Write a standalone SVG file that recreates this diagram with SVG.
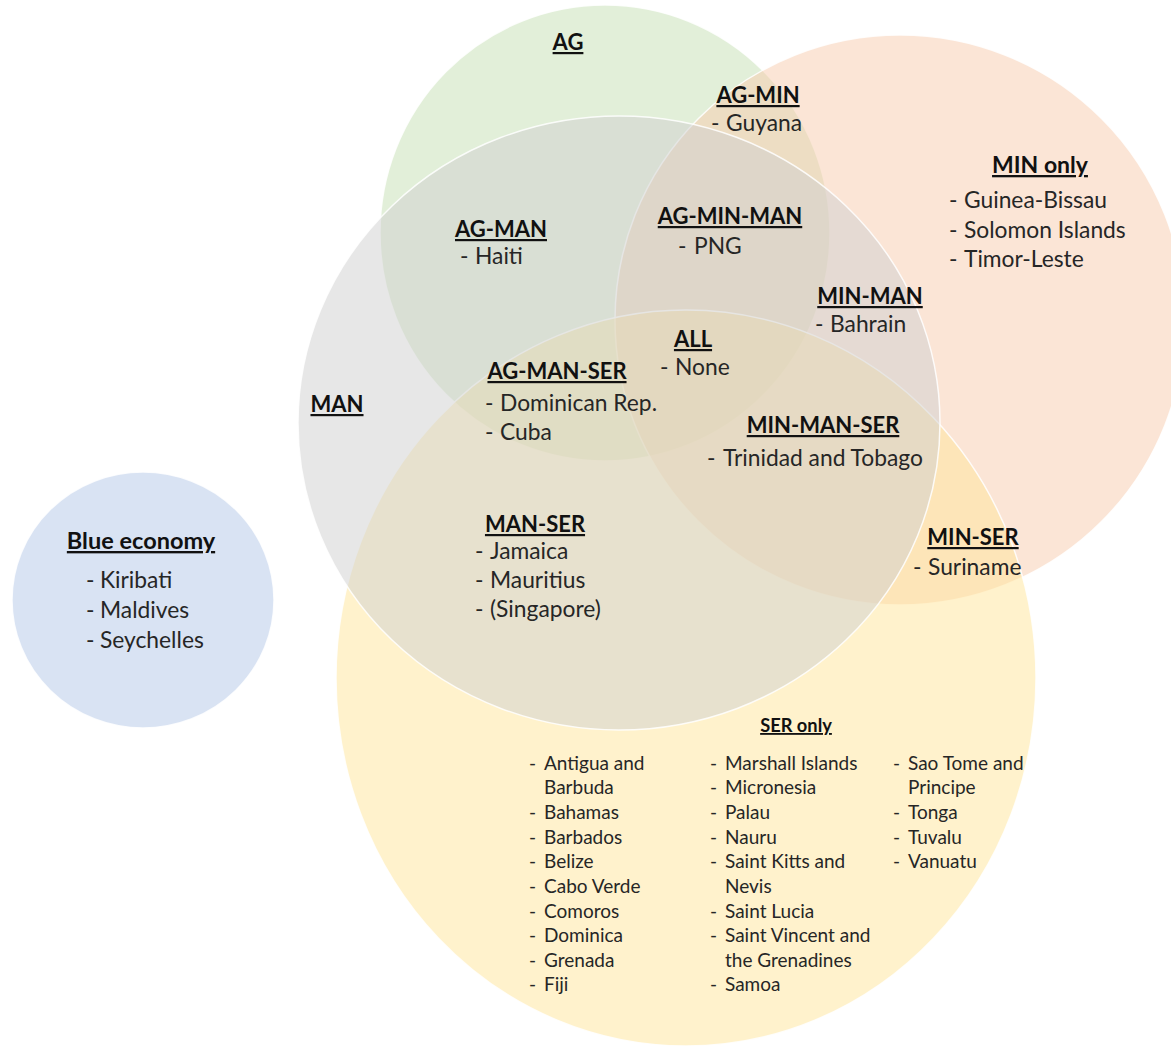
<svg xmlns="http://www.w3.org/2000/svg" width="1171" height="1047" viewBox="0 0 1171 1047">
<style>
.set{fill-opacity:0.5;stroke:#ffffff;stroke-width:1.5;stroke-opacity:0.85}
.h{font-family:Lato,"Liberation Sans",sans-serif;font-weight:bold;font-size:22px;fill:#111;text-anchor:middle;text-decoration:underline}
.t{font-family:Lato,"Liberation Sans",sans-serif;font-size:22.8px;fill:#262626}
.hs{font-family:Lato,"Liberation Sans",sans-serif;font-weight:bold;font-size:18.3px;fill:#111;text-anchor:middle;text-decoration:underline}
.s{font-family:Lato,"Liberation Sans",sans-serif;font-size:19px;fill:#262626}
</style>
<rect width="1171" height="1047" fill="#ffffff"/>
<g id="circles">
<g id="set-ag"><ellipse class="set" cx="605" cy="233" rx="225" ry="228" fill="#c5e0b4"/></g>
<g id="set-min"><circle class="set" cx="900" cy="320" r="285" fill="#f8cbad"/></g>
<g id="set-ser"><ellipse class="set" cx="686" cy="678" rx="350" ry="368" fill="#ffe699"/></g>
<g id="set-man"><ellipse class="set" cx="619" cy="423" rx="321" ry="307" fill="#cfcfcf"/></g>
<g id="set-blue"><ellipse class="set" cx="143" cy="600" rx="131" ry="128" fill="#b4c7e7"/></g>
</g>
<g id="label-ag"><text class="h" x="568" y="50">AG</text></g>
<g id="label-ag-min"><text class="h" x="758" y="103">AG-MIN</text>
<text class="t" y="131"><tspan x="711">-</tspan><tspan x="726">Guyana</tspan></text></g>
<g id="label-min-only"><text class="h" x="1040" y="173" style="font-size:23px">MIN only</text>
<text class="t" y="208"><tspan x="949">-</tspan><tspan x="964">Guinea-Bissau</tspan></text>
<text class="t" y="238"><tspan x="949">-</tspan><tspan x="964">Solomon  Islands</tspan></text>
<text class="t" y="267"><tspan x="949">-</tspan><tspan x="964">Timor-Leste</tspan></text></g>
<g id="label-ag-man"><text class="h" x="501" y="237">AG-MAN</text>
<text class="t" y="264"><tspan x="460">-</tspan><tspan x="475">Haiti</tspan></text></g>
<g id="label-ag-min-man"><text class="h" x="730" y="224">AG-MIN-MAN</text>
<text class="t" y="254"><tspan x="678">-</tspan><tspan x="694">PNG</tspan></text></g>
<g id="label-min-man"><text class="h" x="870" y="304">MIN-MAN</text>
<text class="t" y="332"><tspan x="815">-</tspan><tspan x="830">Bahrain</tspan></text></g>
<g id="label-all"><text class="h" x="693" y="347">ALL</text>
<text class="t" y="375"><tspan x="660">-</tspan><tspan x="675">None</tspan></text></g>
<g id="label-ag-man-ser"><text class="h" x="557" y="379">AG-MAN-SER</text>
<text class="t" y="411"><tspan x="485">-</tspan><tspan x="500">Dominican Rep.</tspan></text>
<text class="t" y="440"><tspan x="485">-</tspan><tspan x="500">Cuba</tspan></text></g>
<g id="label-man"><text class="h" x="337" y="412">MAN</text></g>
<g id="label-min-man-ser"><text class="h" x="823" y="433">MIN-MAN-SER</text>
<text class="t" y="466"><tspan x="707">-</tspan><tspan x="723">Trinidad and Tobago</tspan></text></g>
<g id="label-man-ser"><text class="h" x="535" y="532">MAN-SER</text>
<text class="t" y="559"><tspan x="475">-</tspan><tspan x="490">Jamaica</tspan></text>
<text class="t" y="588"><tspan x="475">-</tspan><tspan x="490">Mauritius</tspan></text>
<text class="t" y="617"><tspan x="475">-</tspan><tspan x="490">(Singapore)</tspan></text></g>
<g id="label-min-ser"><text class="h" x="973" y="545">MIN-SER</text>
<text class="t" y="575"><tspan x="913">-</tspan><tspan x="928">Suriname</tspan></text></g>
<g id="label-blue"><text class="h" x="141" y="549" style="font-size:23.5px">Blue economy</text>
<text class="t" y="588"><tspan x="86">-</tspan><tspan x="100">Kiribati</tspan></text>
<text class="t" y="618"><tspan x="86">-</tspan><tspan x="100">Maldives</tspan></text>
<text class="t" y="648"><tspan x="86">-</tspan><tspan x="100">Seychelles</tspan></text></g>
<g id="label-ser-only"><text class="hs" x="796" y="732">SER only</text>
<text class="s" y="770"><tspan x="529">-</tspan><tspan x="544">Antigua and</tspan></text>
<text class="s" y="794"><tspan x="544">Barbuda</tspan></text>
<text class="s" y="819"><tspan x="529">-</tspan><tspan x="544">Bahamas</tspan></text>
<text class="s" y="844"><tspan x="529">-</tspan><tspan x="544">Barbados</tspan></text>
<text class="s" y="868"><tspan x="529">-</tspan><tspan x="544">Belize</tspan></text>
<text class="s" y="893"><tspan x="529">-</tspan><tspan x="544">Cabo Verde</tspan></text>
<text class="s" y="918"><tspan x="529">-</tspan><tspan x="544">Comoros</tspan></text>
<text class="s" y="942"><tspan x="529">-</tspan><tspan x="544">Dominica</tspan></text>
<text class="s" y="967"><tspan x="529">-</tspan><tspan x="544">Grenada</tspan></text>
<text class="s" y="991"><tspan x="529">-</tspan><tspan x="544">Fiji</tspan></text>
<text class="s" y="770"><tspan x="710">-</tspan><tspan x="725">Marshall Islands</tspan></text>
<text class="s" y="794"><tspan x="710">-</tspan><tspan x="725">Micronesia</tspan></text>
<text class="s" y="819"><tspan x="710">-</tspan><tspan x="725">Palau</tspan></text>
<text class="s" y="844"><tspan x="710">-</tspan><tspan x="725">Nauru</tspan></text>
<text class="s" y="868"><tspan x="710">-</tspan><tspan x="725">Saint Kitts and</tspan></text>
<text class="s" y="893"><tspan x="725">Nevis</tspan></text>
<text class="s" y="918"><tspan x="710">-</tspan><tspan x="725">Saint Lucia</tspan></text>
<text class="s" y="942"><tspan x="710">-</tspan><tspan x="725">Saint Vincent and</tspan></text>
<text class="s" y="967"><tspan x="725">the Grenadines</tspan></text>
<text class="s" y="991"><tspan x="710">-</tspan><tspan x="725">Samoa</tspan></text>
<text class="s" y="770"><tspan x="893">-</tspan><tspan x="908">Sao Tome  and</tspan></text>
<text class="s" y="794"><tspan x="908">Principe</tspan></text>
<text class="s" y="819"><tspan x="893">-</tspan><tspan x="908">Tonga</tspan></text>
<text class="s" y="844"><tspan x="893">-</tspan><tspan x="908">Tuvalu</tspan></text>
<text class="s" y="868"><tspan x="893">-</tspan><tspan x="908">Vanuatu</tspan></text></g>
</svg>
